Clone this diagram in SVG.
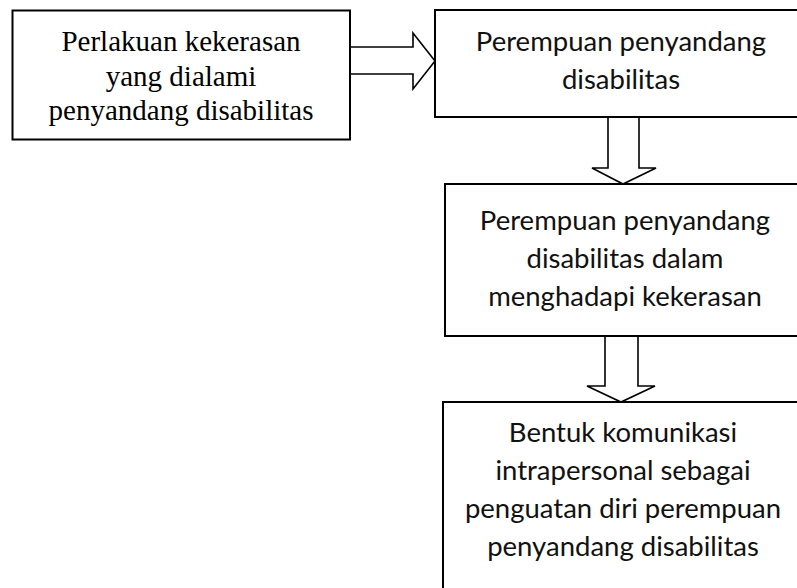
<svg xmlns="http://www.w3.org/2000/svg" width="797" height="588" viewBox="0 0 797 588">
<style>
.box{fill:#fff;stroke:#000;stroke-width:2}
.arr{fill:#fff;stroke:#000;stroke-width:1.6;stroke-linejoin:miter}
.serif{font-family:"Liberation Serif","Times New Roman",serif;font-size:29px;fill:#000;text-anchor:middle}
.sans{font-family:Lato,"Open Sans",sans-serif;font-size:27.5px;fill:#111;text-anchor:middle}
</style>
<rect width="797" height="588" fill="#fff"/>
<g id="connectors">
<path class="arr" d="M350 47 H413 V33 L435 61 L413 89 V74 H350"/>
<path class="arr" d="M608 117 V168 H592 L623 184 L656 168 H639 V117"/>
<path class="arr" d="M605 336 V386 H587 L621 402 L655 386 H638 V336"/>
</g>
<g id="node1">
<rect class="box" x="12.5" y="10.5" width="337.5" height="129"/>
<text class="serif"><tspan x="181" y="51">Perlakuan kekerasan</tspan><tspan x="181" y="85.5">yang dialami</tspan><tspan x="181" y="120">penyandang disabilitas</tspan></text>
</g>
<g id="node2">
<rect class="box" x="435" y="10" width="372" height="107"/>
<text class="sans"><tspan x="621" y="51">Perempuan penyandang</tspan><tspan x="621" y="89">disabilitas</tspan></text>
</g>
<g id="node3">
<rect class="box" x="445" y="184" width="360" height="152"/>
<text class="sans"><tspan x="625" y="230">Perempuan penyandang</tspan><tspan x="625" y="268">disabilitas dalam</tspan><tspan x="625" y="306">menghadapi kekerasan</tspan></text>
</g>
<g id="node4">
<rect class="box" x="443" y="402" width="362" height="200"/>
<text class="sans"><tspan x="623" y="442">Bentuk komunikasi</tspan><tspan x="623" y="480">intrapersonal sebagai</tspan><tspan x="623" y="518">penguatan diri perempuan</tspan><tspan x="623" y="556">penyandang disabilitas</tspan></text>
</g>
</svg>
